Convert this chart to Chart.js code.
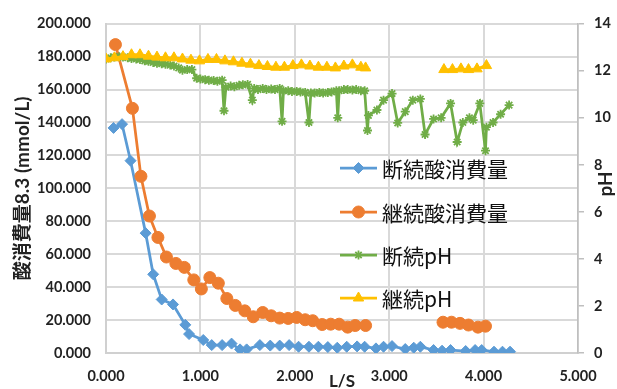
<!DOCTYPE html>
<html>
<head>
<meta charset="utf-8">
<script src="https://cdn.jsdelivr.net/npm/chart.js@4/dist/chart.umd.min.js"></script>
<style>
  html, body { margin: 0; padding: 0; background: #fff; }
  #wrap { position: relative; width: 617px; height: 389px; }
</style>
</head>
<body>
<div id="wrap"><canvas id="chart"></canvas></div>
<script>
// Données (L/S en abscisse)
const intermitAcidX = [0.08, 0.17, 0.26, 0.42, 0.50, 0.59, 0.71, 0.84, 0.88, 1.03, 1.12, 1.23, 1.33, 1.42, 1.49,
  1.63, 1.74, 1.84, 1.94, 2.04, 2.15, 2.25, 2.35, 2.45, 2.55, 2.66, 2.74, 2.86, 2.94, 3.03, 3.17, 3.26, 3.33,
  3.47, 3.56, 3.65, 3.81, 3.91, 3.98, 4.11, 4.20, 4.28];
const intermitAcidY = [136.7, 139.0, 116.8, 72.8, 47.8, 32.5, 29.5, 17.1, 11.5, 7.9, 4.8, 4.8, 5.7, 2.2, 2.2,
  4.8, 4.5, 4.5, 4.8, 3.8, 3.8, 3.8, 3.6, 3.2, 3.8, 4.0, 3.8, 2.8, 3.8, 4.2, 2.4, 3.2, 3.8,
  1.8, 1.4, 1.8, 1.2, 1.8, 1.8, 0.8, 0.8, 0.8];

const contAcidX = [0.10, 0.28, 0.37, 0.46, 0.55, 0.64, 0.74, 0.83, 0.93, 1.01, 1.10, 1.19, 1.28, 1.37, 1.47,
  1.56, 1.66, 1.75, 1.84, 1.93, 2.02, 2.11, 2.19, 2.29, 2.38, 2.47, 2.56, 2.64, 2.75, 3.20,
  3.57, 3.66, 3.75, 3.84, 3.94, 4.02];
const contAcidY = [187.3, 148.6, 107.3, 83.2, 70.2, 58.3, 54.4, 52.0, 44.4, 38.9, 45.8, 42.4, 33.1, 28.9, 25.6,
  22.0, 24.6, 22.6, 21.2, 21.0, 21.6, 20.2, 19.6, 17.3, 17.5, 17.5, 15.7, 16.7, 16.7, null,
  18.7, 18.7, 18.0, 17.0, 15.7, 16.3];

const intermitPhX = [0.00, 0.05, 0.09, 0.14, 0.18, 0.23, 0.27, 0.32, 0.36, 0.41, 0.45, 0.50, 0.54, 0.59, 0.63,
  0.68, 0.72, 0.77, 0.81, 0.86, 0.91, 0.96, 1.00, 1.05, 1.09, 1.14, 1.18, 1.23, 1.25, 1.27, 1.32, 1.36, 1.41,
  1.45, 1.50, 1.55, 1.57, 1.61, 1.66, 1.70, 1.75, 1.79, 1.84, 1.865, 1.88, 1.93, 1.97, 2.02, 2.06, 2.11, 2.15,
  2.17, 2.21, 2.26, 2.30, 2.35, 2.39, 2.44, 2.455, 2.47, 2.52, 2.56, 2.61, 2.65, 2.70, 2.74, 2.77, 2.78, 2.87,
  2.94, 3.03, 3.09, 3.17, 3.25, 3.33, 3.38, 3.47, 3.55, 3.65, 3.72, 3.78, 3.85, 3.89, 3.96, 4.02, 4.03, 4.10,
  4.18, 4.27];
const intermitPhY = [12.50, 12.55, 12.58, 12.60, 12.58, 12.55, 12.52, 12.50, 12.48, 12.42, 12.40, 12.35, 12.32, 12.30, 12.28,
  12.24, 12.20, 12.12, 12.02, 12.05, 12.05, 11.68, 11.65, 11.62, 11.60, 11.58, 11.55, 11.60, 10.30, 11.30, 11.35, 11.32, 11.38,
  11.40, 11.42, 10.75, 11.25, 11.20, 11.25, 11.20, 11.22, 11.20, 11.25, 9.85, 11.15, 11.15, 11.12, 11.12, 11.10, 11.08, 9.80,
  11.05, 11.05, 11.08, 11.05, 11.08, 11.10, 11.15, 10.00, 11.15, 11.20, 11.20, 11.18, 11.20, 11.15, 11.15, 9.46, 10.10, 10.33,
  10.75, 11.03, 9.78, 10.26, 10.75, 10.80, 9.29, 9.95, 10.00, 10.61, 8.97, 9.80, 10.00, 9.90, 10.61, 8.60, 9.60, 9.80,
  10.15, 10.54];

const contPhX = [0.00, 0.09, 0.18, 0.27, 0.36, 0.45, 0.54, 0.63, 0.72, 0.81, 0.90, 0.99, 1.08, 1.17, 1.26, 1.35,
  1.44, 1.53, 1.62, 1.71, 1.80, 1.89, 1.98, 2.07, 2.16, 2.25, 2.34, 2.43, 2.52, 2.61, 2.70, 2.75, 3.20,
  3.58, 3.67, 3.76, 3.84, 3.93, 4.03];
const contPhY = [12.50, 12.55, 12.60, 12.68, 12.68, 12.62, 12.58, 12.55, 12.55, 12.50, 12.45, 12.42, 12.48, 12.48, 12.42, 12.38,
  12.32, 12.28, 12.22, 12.18, 12.15, 12.15, 12.22, 12.25, 12.20, 12.15, 12.15, 12.12, 12.20, 12.25, 12.15, 12.12, null,
  12.05, 12.05, 12.08, 12.05, 12.08, 12.22];

const seriesNames = ['断続酸消費量', '継続酸消費量', '断続pH', '継続pH'];
const xTicks = [0, 1, 2, 3, 4, 5];
const leftTicks = [0, 20, 40, 60, 80, 100, 120, 140, 160, 180, 200];
const rightTicks = [0, 2, 4, 6, 8, 10, 12, 14];

const COLORS = ['#5B9BD5', '#ED7D31', '#70AD47', '#FFC000'];
const GRID = '#D9D9D9';
const TXT = '#222222';

function toPoints(xs, ys) {
    return xs.map(function(x, i) { return { x: x, y: ys[i] }; });
}

Chart.defaults.font.family = 'Lato, "Noto Sans CJK JP", sans-serif';
Chart.defaults.color = TXT;

// Titres pH / L/S et légende dessinés à la main (placement comme dans Excel)
const overlayPlugin = {
    id: 'overlay',
    afterDraw: function(chart) {
        const ctx = chart.ctx;
        const area = chart.chartArea;

        ctx.save();
        ctx.fillStyle = TXT;
        ctx.font = 'bold 19px Lato, sans-serif';
        ctx.textAlign = 'center';
        ctx.textBaseline = 'middle';
        ctx.translate(chart.width - 11, 184);
        ctx.rotate(-Math.PI / 2);
        ctx.fillText('pH', 0, 0);
        ctx.restore();

        ctx.save();
        ctx.fillStyle = TXT;
        ctx.font = 'bold 17px Lato, sans-serif';
        ctx.textAlign = 'center';
        ctx.textBaseline = 'alphabetic';
        ctx.fillText('L/S', (area.left + area.right) / 2, 387);
        ctx.restore();

        // légende
        const rows = [168, 212, 255, 298];
        chart.data.datasets.forEach(function(ds, i) {
            const y = rows[i];
            ctx.save();
            ctx.strokeStyle = ds.borderColor;
            ctx.lineWidth = ds.borderWidth;
            ctx.beginPath();
            ctx.moveTo(340, y);
            ctx.lineTo(377, y);
            ctx.stroke();
            ctx.fillStyle = ds.pointBackgroundColor;
            ctx.strokeStyle = ds.pointBorderColor;
            ctx.lineWidth = ds.pointBorderWidth;
            Chart.helpers.drawPoint(ctx, {
                pointStyle: ds.pointStyle,
                radius: ds.pointRadius,
                rotation: 0,
                borderWidth: ds.pointBorderWidth
            }, 358.5, y);
            ctx.fillStyle = '#111';
            ctx.font = '21px "Noto Sans CJK JP", sans-serif';
            ctx.textAlign = 'left';
            ctx.textBaseline = 'middle';
            ctx.fillText(ds.label, 382, y + 1);
            ctx.restore();
        });
    }
};

function makeDataset(i, xs, ys, axis, style, radius, order) {
    return {
        label: seriesNames[i],
        data: toPoints(xs, ys),
        yAxisID: axis,
        borderColor: COLORS[i],
        backgroundColor: COLORS[i],
        borderWidth: 2.75,
        pointStyle: style,
        pointRadius: radius,
        pointHoverRadius: radius,
        pointBackgroundColor: COLORS[i],
        pointBorderColor: COLORS[i],
        pointBorderWidth: style === 'star' ? 1.8 : 1,
        tension: 0,
        spanGaps: false,
        order: order
    };
}

const ctx = document.getElementById('chart').getContext('2d');
new Chart(ctx, {
    type: 'line',
    data: {
        datasets: [
            makeDataset(0, intermitAcidX, intermitAcidY, 'y', 'rectRot', 5.5, 4),
            makeDataset(1, contAcidX, contAcidY, 'y', 'circle', 6, 3),
            makeDataset(2, intermitPhX, intermitPhY, 'y2', 'star', 4.5, 2),
            makeDataset(3, contPhX, contPhY, 'y2', 'triangle', 6, 1)
        ]
    },
    options: {
        responsive: true,
        maintainAspectRatio: false,
        animation: false,
        layout: { padding: { top: 17, left: 0, right: 0, bottom: 0 } },
        plugins: {
            legend: { display: false },
            tooltip: { enabled: false }
        },
        scales: {
            x: {
                type: 'linear',
                min: 0,
                max: 5,
                afterBuildTicks: function(scale) {
                    scale.ticks = xTicks.map(function(v) { return { value: v }; });
                },
                ticks: {
                    padding: 15,
                    maxRotation: 0,
                    font: { size: 14.5, weight: 'bold' },
                    callback: function(v) { return Number(v).toFixed(3); }
                },
                grid: { color: GRID, lineWidth: 2, drawTicks: false },
                border: { color: '#D0D0D0', width: 2 },
                afterFit: function(scale) { scale.height = 36; }
            },
            y: {
                position: 'left',
                min: 0,
                max: 200,
                afterBuildTicks: function(scale) {
                    scale.ticks = leftTicks.map(function(v) { return { value: v }; });
                },
                ticks: {
                    padding: 15,
                    font: { size: 14.5, weight: 'bold' },
                    callback: function(v) { return Number(v).toFixed(3); }
                },
                grid: { color: GRID, lineWidth: 2, drawTicks: false },
                border: { color: '#D0D0D0', width: 2 },
                title: {
                    display: true,
                    text: '酸消費量8.3 (mmol/L)',
                    color: TXT,
                    font: { size: 19, weight: 'bold' },
                    padding: { top: 11, bottom: 0 }
                },
                afterFit: function(scale) { scale.width = 106; }
            },
            y2: {
                position: 'right',
                min: 0,
                max: 14,
                afterBuildTicks: function(scale) {
                    scale.ticks = rightTicks.map(function(v) { return { value: v }; });
                },
                ticks: {
                    padding: 10,
                    font: { size: 14.5, weight: 'bold' },
                    callback: function(v) { return String(v); }
                },
                grid: { drawOnChartArea: false, drawTicks: true, tickLength: 6, color: '#BFBFBF', lineWidth: 1.5 },
                border: { color: '#BFBFBF', width: 1.5 },
                afterFit: function(scale) { scale.width = 39; }
            }
        }
    },
    plugins: [overlayPlugin]
});
</script>
</body>
</html>
